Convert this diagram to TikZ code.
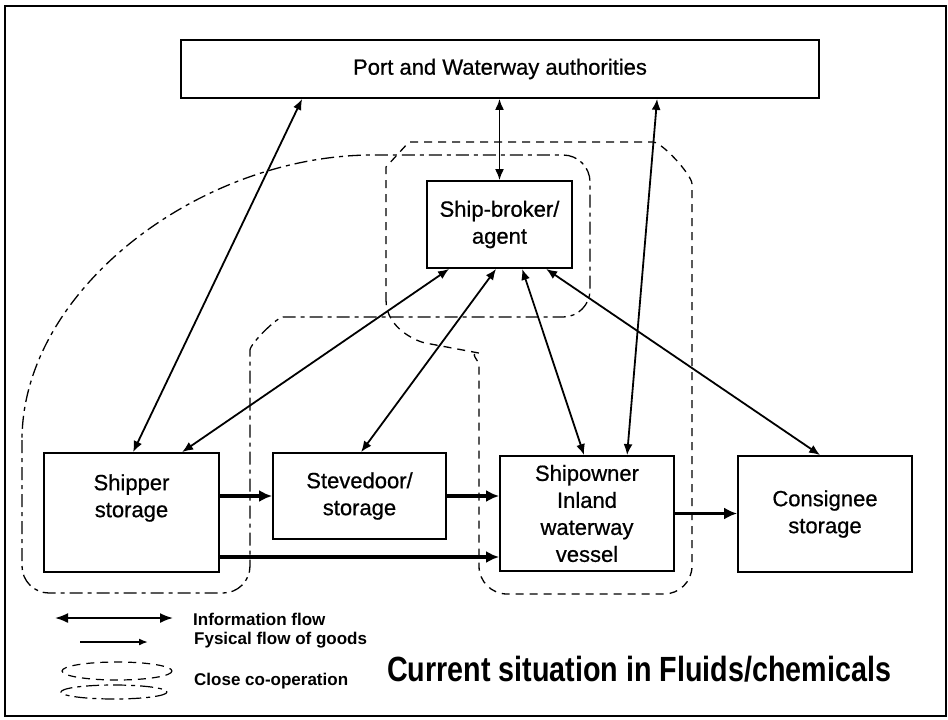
\documentclass[tikz,border=0pt]{standalone}
\usepackage{graphicx}
\usepackage{fontspec}
\setmainfont{Liberation Sans}
\newfontfamily\boxfont{Liberation Sans}[FakeBold=0.7]
\usetikzlibrary{arrows.meta}
\begin{document}
\begin{tikzpicture}[x=1pt,y=-1pt,
  box/.style={draw, line width=1.8pt, inner sep=0pt},
  boxtext/.style={font=\boxfont\fontsize{22}{27}\selectfont, align=center, inner sep=0pt},
  info/.style={line width=1.8pt, {Latex[length=11pt,width=9pt]}-{Latex[length=11pt,width=9pt]}},
  phys/.style={line width=3.6pt, -{Latex[length=13pt,width=12pt]}},
  coopA/.style={line width=1.3pt, dash pattern=on 13pt off 5pt on 4pt off 5pt},
  coopB/.style={line width=1.3pt, dash pattern=on 8pt off 6pt},
  legtext/.style={font=\fontsize{17}{20}\selectfont\bfseries, inner sep=0pt, anchor=base west}]
\useasboundingbox (0,0) rectangle (948,720);

% outer frame
\draw[line width=2pt] (5,6) rectangle (946,716);

% actors
\node[box, minimum width=638pt, minimum height=58pt, font=\boxfont\fontsize{22}{26}\selectfont] (port) at (500,69) {Port and Waterway authorities};
\node[box, boxtext, minimum width=145pt, minimum height=87pt] (broker) at (499.5,224.5) {Ship-broker/\\agent};
\node[box, minimum width=175pt, minimum height=119pt] (shipper) at (131.5,512.5) {};
\node[boxtext] (shippertext) at (131.5,498) {Shipper\\storage};
\node[box, boxtext, minimum width=173pt, minimum height=86pt] (stevedoor) at (359.5,496) {Stevedoor/\\storage};
\node[box, boxtext, minimum width=174pt, minimum height=115pt] (shipowner) at (587,513.5) {Shipowner\\Inland\\waterway\\vessel};
\node[box, boxtext, minimum width=174pt, minimum height=116pt] (consignee) at (825,514) {Consignee\\storage};

% close co-operation: shipper and ship-broker
\draw[coopA, rounded corners=27pt]
  (22,440) -- (22,593) -- (250,593) -- (250,377)
  .. controls (250,344) and (277,317) .. (310,317)
  -- (590,317) -- (590,155) -- (400,155)
  .. controls (200,155) and (22,290) .. (22,440);

% close co-operation: ship-broker and shipowner
\draw[coopB, rounded corners=28pt]
  (386,300) -- (386,195)
  .. controls (386,167) and (409,142) .. (437,142)
  -- (625,142)
  .. controls (662,142) and (692,175) .. (692,212)
  -- (692,594) -- (479,594) -- (479,392)
  .. controls (479,362) and (468,351) .. (452,348)
  .. controls (420,342) and (386,330) .. (386,300);

% information flows
\draw[info] ([xshift=122pt]port.south west) -- ([xshift=90pt]shipper.north west);
\draw[info] (port.south -| broker.north) -- (broker.north);
\draw[info] ([xshift=477pt]port.south west) -- ([xshift=128pt]shipowner.north west);
\draw[info] ([xshift=23pt]broker.south west) -- ([xshift=139pt]shipper.north west);
\draw[info] ([xshift=70pt]broker.south west) -- ([xshift=89pt]stevedoor.north west);
\draw[info] ([xshift=96pt]broker.south west) -- ([xshift=85pt]shipowner.north west);
\draw[info] ([xshift=120pt]broker.south west) -- ([xshift=83pt]consignee.north west);

% physical flows of goods
\draw[phys] (shipper.east |- stevedoor.west) -- (stevedoor.west);
\draw[phys] (stevedoor.east) -- (stevedoor.east -| shipowner.west);
\coordinate (lowflow) at ([yshift=-44.5pt]shipper.east);
\draw[phys] (lowflow) -- (lowflow -| shipowner.west);
\draw[phys] (shipowner.east) -- (shipowner.east -| consignee.west);

% legend
\coordinate (infoL) at (55,618);
\coordinate (infoR) at (173,618);
\draw[line width=1.8pt, {Latex[length=13pt,width=10pt]}-{Latex[length=13pt,width=10pt]}] (infoL) -- (infoR);
\coordinate (physL) at (80,642);
\coordinate (physR) at (148,642);
\draw[line width=1.7pt, -{Latex[length=9pt,width=7pt]}] (physL) -- (physR);
\draw[coopB, line width=1.2pt] (117,671) ellipse [x radius=55, y radius=9];
\draw[coopA, line width=1.2pt] (114,692) ellipse [x radius=53, y radius=7];
\node[legtext] (leginfo) at (193,625) {Information flow};
\node[legtext] (legphys) at (194,644) {Fysical flow of goods};
\node[legtext] (legcoop) at (194,685) {Close co-operation};

% title
\node[anchor=base west, inner sep=0pt] (title) at (387,681)
  {\scalebox{0.82}[1]{\fontsize{35}{40}\selectfont\bfseries Current situation in Fluids/chemicals}};
\end{tikzpicture}
\end{document}
